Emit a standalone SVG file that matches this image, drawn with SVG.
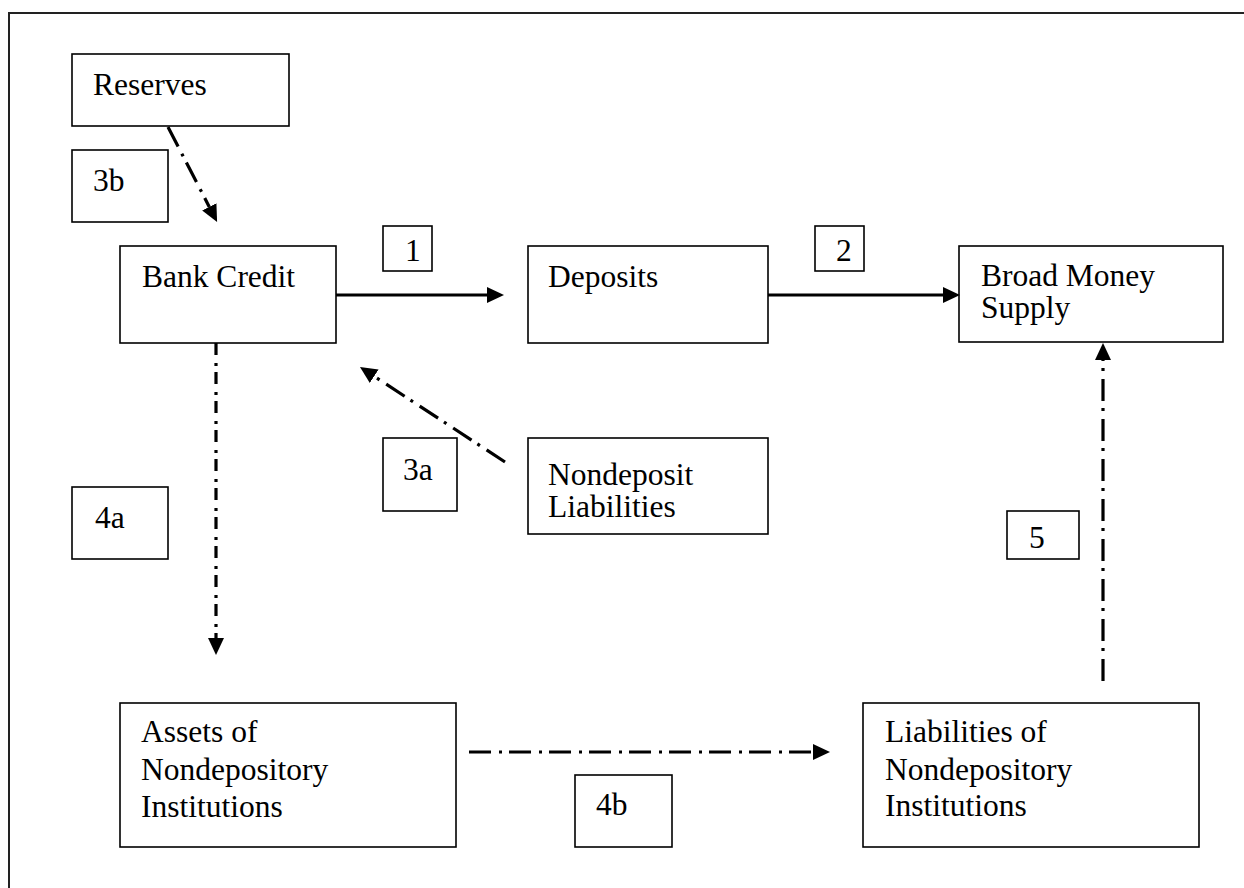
<svg xmlns="http://www.w3.org/2000/svg" width="1244" height="888" viewBox="0 0 1244 888">
<style>
  .box { fill: #fff; stroke: #000; stroke-width: 1.6; }
  .lbl { font-family: "Liberation Serif", "Times New Roman", serif; font-size: 31.5px; fill: #000; }
  .solid { stroke: #000; stroke-width: 3.2; fill: none; }
  .dd { stroke: #000; stroke-width: 3.2; fill: none; stroke-dasharray: 22 8 3 7; }
  .dd2 { stroke: #000; stroke-width: 3.2; fill: none; stroke-dasharray: 12 8 3 6; }
  .frame { stroke: #222; stroke-width: 2; fill: none; }
</style>
<defs>
  <marker id="ah" markerUnits="userSpaceOnUse" markerWidth="18" markerHeight="17" refX="0" refY="8" orient="auto">
    <path d="M0,0 L17,8 L0,16 Z" fill="#000"/>
  </marker>
</defs>
<rect width="1244" height="888" fill="#fff"/>
<path class="frame" d="M9,888 L9,13 L1244,13"/>

<g id="reserves"><rect class="box" x="72" y="54" width="217" height="72"/><text class="lbl" x="93" y="95">Reserves</text></g>
<g id="label-3b"><rect class="box" x="72" y="150" width="96" height="72"/><text class="lbl" x="93" y="191">3b</text></g>
<g id="bank-credit"><rect class="box" x="120" y="246" width="216" height="97"/><text class="lbl" x="142" y="287">Bank Credit</text></g>
<g id="label-1"><rect class="box" x="383" y="226" width="49" height="45"/><text class="lbl" x="405" y="261">1</text></g>
<g id="deposits"><rect class="box" x="528" y="246" width="240" height="97"/><text class="lbl" x="548" y="287">Deposits</text></g>
<g id="label-2"><rect class="box" x="815" y="226" width="49" height="45"/><text class="lbl" x="836" y="261">2</text></g>
<g id="broad-money"><rect class="box" x="959" y="246" width="264" height="96"/><text class="lbl" x="981" y="286">Broad Money</text><text class="lbl" x="981" y="318">Supply</text></g>
<g id="label-3a"><rect class="box" x="383" y="438" width="74" height="73"/><text class="lbl" x="403" y="480">3a</text></g>
<g id="nondeposit"><rect class="box" x="528" y="438" width="240" height="96"/><text class="lbl" x="548" y="485">Nondeposit</text><text class="lbl" x="548" y="517">Liabilities</text></g>
<g id="label-4a"><rect class="box" x="72" y="487" width="96" height="72"/><text class="lbl" x="95" y="528">4a</text></g>
<g id="label-5"><rect class="box" x="1007" y="511" width="72" height="48"/><text class="lbl" x="1029" y="548">5</text></g>
<g id="assets"><rect class="box" x="120" y="703" width="336" height="144"/><text class="lbl" x="141" y="742">Assets of</text><text class="lbl" x="141" y="780">Nondepository</text><text class="lbl" x="141" y="817">Institutions</text></g>
<g id="label-4b"><rect class="box" x="575" y="775" width="97" height="72"/><text class="lbl" x="596" y="815">4b</text></g>
<g id="liabilities"><rect class="box" x="863" y="703" width="336" height="144"/><text class="lbl" x="885" y="742">Liabilities of</text><text class="lbl" x="885" y="780">Nondepository</text><text class="lbl" x="885" y="816">Institutions</text></g>

<g id="connectors">
  <line class="solid" x1="336" y1="295" x2="487" y2="295" marker-end="url(#ah)"/>
  <line class="solid" x1="768" y1="295" x2="943" y2="295" marker-end="url(#ah)"/>
  <line class="dd" x1="168" y1="127" x2="209.3" y2="206.9" marker-end="url(#ah)"/>
  <line class="dd" x1="505" y1="462" x2="374.2" y2="376.3" marker-end="url(#ah)"/>
  <line class="dd2" x1="216" y1="343" x2="216" y2="638" marker-end="url(#ah)"/>
  <line class="dd" x1="469" y1="752" x2="813" y2="752" marker-end="url(#ah)"/>
  <line class="dd" x1="1103" y1="681" x2="1103" y2="360" marker-end="url(#ah)"/>
</g>
</svg>
